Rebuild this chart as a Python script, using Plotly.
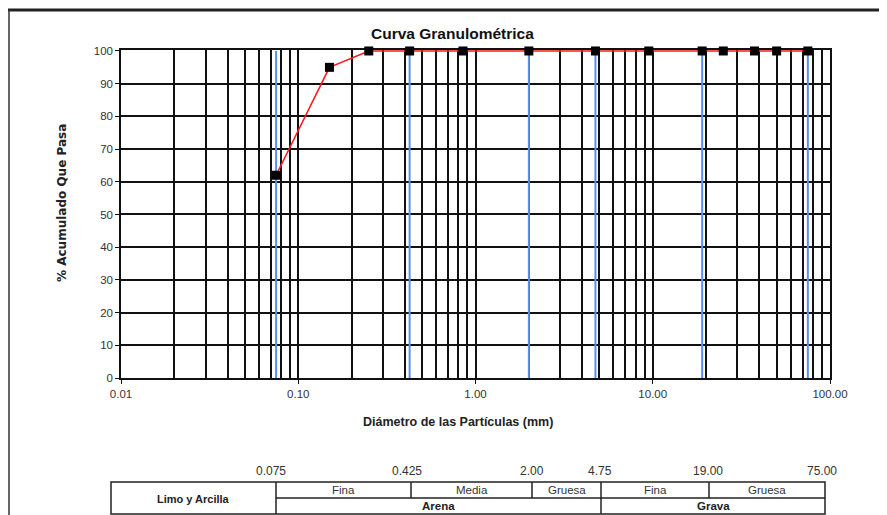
import plotly.graph_objects as go

# ---- data ----
sizes_mm = [0.075, 0.15, 0.25, 0.425, 0.85, 2.0, 4.75, 9.5, 19.0, 25.0, 37.5, 50.0, 75.0]
pct_passing = [62, 95, 100, 100, 100, 100, 100, 100, 100, 100, 100, 100, 100]
limit_sizes = [0.075, 0.425, 2.0, 4.75, 19.0, 75.0]
limit_labels = ["0.075", "0.425", "2.00", "4.75", "19.00", "75.00"]
x_tick_vals = [0.01, 0.1, 1, 10, 100]
x_tick_text = ["0.01", "0.10", "1.00", "10.00", "100.00"]
minor_vals = [m * d for d in [0.01, 0.1, 1, 10] for m in range(2, 10)]
sub_labels = ["Fina", "Media", "Gruesa", "Fina", "Gruesa"]
group_labels = ["Arena", "Grava"]
fines_label = "Limo y Arcilla"

OFF = 8  # page body margin
W, H = 887 - OFF, 515 - OFF
# plot area in window pixels
L, R, T, B = 121, 830, 50, 378
FONT = "Liberation Sans, Arial, sans-serif"


def px(x):
    return (x - L) / (R - L)


def py(y):
    return (B - y) / (B - T)


fig = go.Figure()

for v in limit_sizes:
    fig.add_trace(go.Scatter(x=[v, v], y=[0, 100], mode="lines",
                             line=dict(color="#5b8ef0", width=2),
                             hoverinfo="skip", showlegend=False))

fig.add_trace(go.Scatter(x=sizes_mm, y=pct_passing, mode="lines+markers",
                         line=dict(color="#ff1a1a", width=1.6),
                         marker=dict(symbol="square", size=9, color="black"),
                         cliponaxis=False, showlegend=False))

shapes = []
ann = []

# outer frame lines
shapes.append(dict(type="line", xref="paper", yref="paper", x0=px(0), x1=px(900),
                   y0=py(10), y1=py(10), line=dict(color="#222", width=3)))
shapes.append(dict(type="line", xref="paper", yref="paper", x0=px(9), x1=px(9),
                   y0=py(10), y1=py(520), line=dict(color="#333", width=1.5)))

# table
tl, tr, ttop, tmid, tbot = 111, 825, 482, 498, 514
bounds = [276, 411, 532, 601, 709, 825]
line = dict(color="#222", width=1.5)
shapes.append(dict(type="rect", xref="paper", yref="paper", x0=px(tl), x1=px(tr),
                   y0=py(tbot), y1=py(ttop), line=line))
shapes.append(dict(type="line", xref="paper", yref="paper", x0=px(276), x1=px(tr),
                   y0=py(tmid), y1=py(tmid), line=line))
shapes.append(dict(type="line", xref="paper", yref="paper", x0=px(276), x1=px(276),
                   y0=py(tbot), y1=py(ttop), line=line))
shapes.append(dict(type="line", xref="paper", yref="paper", x0=px(601), x1=px(601),
                   y0=py(tbot), y1=py(ttop), line=line))
for b in [411, 532, 709]:
    shapes.append(dict(type="line", xref="paper", yref="paper", x0=px(b), x1=px(b),
                       y0=py(tmid), y1=py(ttop), line=line))

label_x = [271, 407, 532, 600, 708, 822]
for lx, t in zip(label_x, limit_labels):
    ann.append(dict(x=px(lx), y=py(471), xref="paper", yref="paper", text=t,
                    showarrow=False, font=dict(family=FONT, size=12, color="#333"),
                    xanchor="center", yanchor="middle"))

for i, t in enumerate(sub_labels):
    cx = (bounds[i] + bounds[i + 1]) / 2
    ann.append(dict(x=px(cx), y=py(490), xref="paper", yref="paper", text=t,
                    showarrow=False, font=dict(family=FONT, size=11.5, color="#333"),
                    xanchor="center", yanchor="middle"))
for (a, b), t in zip([(276, 601), (601, 825)], group_labels):
    ann.append(dict(x=px((a + b) / 2), y=py(506), xref="paper", yref="paper",
                    text="<b>" + t + "</b>", showarrow=False,
                    font=dict(family=FONT, size=11.5, color="#222"),
                    xanchor="center", yanchor="middle"))
ann.append(dict(x=px((tl + 276) / 2), y=py(499), xref="paper", yref="paper",
                text="<b>" + fines_label + "</b>", showarrow=False,
                font=dict(family=FONT, size=11, color="#222"),
                xanchor="center", yanchor="middle"))

# titles
ann.append(dict(x=px(452), y=py(33), xref="paper", yref="paper",
                text="<b>Curva Granulométrica</b>", showarrow=False,
                font=dict(family=FONT, size=15.5, color="#111"),
                xanchor="center", yanchor="middle"))
ann.append(dict(x=px(458), y=py(422), xref="paper", yref="paper",
                text="<b>Diámetro de las Partículas (mm)</b>", showarrow=False,
                font=dict(family=FONT, size=12.5, color="#222"),
                xanchor="center", yanchor="middle"))
ann.append(dict(x=px(62), y=py(203), xref="paper", yref="paper",
                text="<b>% Acumulado Que Pasa</b>", showarrow=False, textangle=-90,
                font=dict(family="DejaVu Sans, Liberation Sans, sans-serif", size=12,
                          color="#222"),
                xanchor="center", yanchor="middle"))

fig.update_layout(
    width=W, height=H,
    margin=dict(l=L - OFF, r=887 - R, t=T - OFF, b=515 - B, pad=0),
    paper_bgcolor="white", plot_bgcolor="white",
    shapes=shapes, annotations=ann,
    font=dict(family=FONT, size=11, color="#333"),
)
fig.update_xaxes(type="log", range=[-2, 2], tickvals=x_tick_vals, ticktext=x_tick_text,
                 showgrid=True, gridcolor="#111", gridwidth=1.5,
                 minor=dict(tickvals=minor_vals, showgrid=True, gridcolor="#111",
                            gridwidth=1.5, ticks=""),
                 showline=True, linecolor="#111", linewidth=1.5, mirror=True,
                 ticks="outside", ticklen=4, tickcolor="#111", zeroline=False,
                 layer="below traces",
                 tickfont=dict(family=FONT, size=11.5, color="#333"))
fig.update_yaxes(range=[0, 100.3], tick0=0, dtick=10, showgrid=True, gridcolor="#111",
                 gridwidth=1.5,
                 showline=True, linecolor="#111", linewidth=1.5, mirror=True,
                 ticks="outside", ticklen=4, tickcolor="#111", zeroline=False,
                 layer="below traces",
                 tickfont=dict(family=FONT, size=11.5, color="#333"))

fig.write_html("out.html")
